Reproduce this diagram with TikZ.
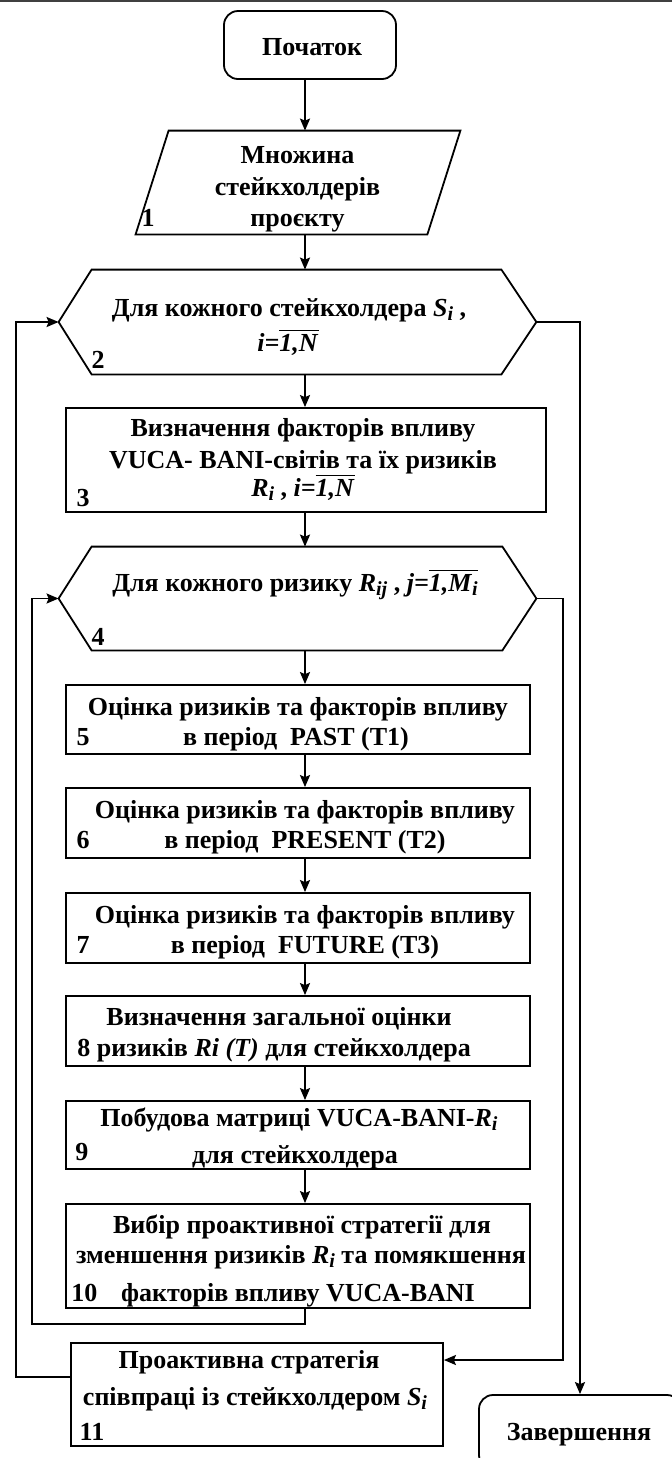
\documentclass[tikz,border=0pt]{standalone}
\usepackage{fontspec}
\usepackage{amsmath}
\setmainfont{Liberation Serif}
\usetikzlibrary{arrows.meta,calc}
\newcommand\fs{\fontsize{13pt}{15.5pt}\selectfont\bfseries}
\newcommand\ovl[1]{$\overline{\text{\textit{#1}}}$}
\newcommand\sbi[1]{\raisebox{-0.35ex}{\fontsize{10pt}{12pt}\selectfont\textit{#1}}}
\tikzset{
  base/.style={draw, line width=0.9pt},
  proc/.style={base, rectangle, inner sep=0pt},
  ghost/.style={rectangle, inner sep=0pt},
  shp/.style={line width=0.9pt, line join=miter},
  txt/.style={inner sep=0pt, anchor=base, font=\fs},
  txtw/.style={inner sep=0pt, anchor=base west, font=\fs},
  arr/.style={line width=0.9pt, -{Stealth[length=6pt,width=5pt,inset=1pt]}},
  ln/.style={line width=0.9pt}
}
\begin{document}
\begin{tikzpicture}[x=0.5pt,y=-0.5pt]
\useasboundingbox (0,0) rectangle (672,1458);
\clip (0,0) rectangle (672,1458);
\fill[white] (0,0) rectangle (672,1458);
\draw[line width=0.85pt, black!75] (0,0.85) -- (672,0.85);
\coordinate (ax) at (305,0);

% start
\node[proc, rounded corners=7pt, minimum width=86pt, minimum height=34pt] (start) at (310,45) {};
\node[txt] (tstart) at (312,55) {Початок};

% parallelogram
\node[ghost, minimum width=162pt, minimum height=51.5pt] (par) at (298,182.5) {};
\draw[shp] ([xshift=16.5pt]par.north west) -- (par.north east) -- ([xshift=-16.5pt]par.south east) -- (par.south west) -- cycle;
\node[txt] (tp1) at (297.5,163) {Множина};
\node[txt] (tp2) at (297.5,195) {стейкхолдерів};
\node[txt] (tp3) at (297.5,226) {проєкту};
\node[txt] (n1) at (148,226) {1};

% hexagon 2
\node[ghost, minimum width=238.5pt, minimum height=52pt] (hex2) at (297.5,322) {};
\draw[shp] (hex2.west) -- ([xshift=16.5pt]hex2.north west) -- ([xshift=-17.5pt]hex2.north east) -- (hex2.east) -- ([xshift=-17.5pt]hex2.south east) -- ([xshift=16.5pt]hex2.south west) -- cycle;
\node[txt] (th2a) at (289,316) {Для кожного стейкхолдера \textit{S}\sbi{i} ,};
\node[txt] (th2b) at (288,351) {\textit{i=}\ovl{1,N}};
\node[txt] (n2) at (98,368) {2};

% box 3
\node[proc, minimum width=240pt, minimum height=52pt] (b3) at (306,460) {};
\node[txt] (t3a) at (303,436) {Визначення факторів впливу};
\node[txt] (t3b) at (303,468) {VUCA- BANI-світів та їх ризиків};
\node[txt] (t3c) at (303,496) {\textit{R}\sbi{i} , \textit{i=}\ovl{1,N}};
\node[txt] (n3) at (83,506) {3};

% hexagon 4
\node[ghost, minimum width=238.5pt, minimum height=51.5pt] (hex4) at (297.5,598.5) {};
\draw[shp] (hex4.west) -- ([xshift=16.5pt]hex4.north west) -- ([xshift=-17pt]hex4.north east) -- (hex4.east) -- ([xshift=-17pt]hex4.south east) -- ([xshift=16.5pt]hex4.south west) -- cycle;
\node[txt] (th4) at (295,591) {Для кожного ризику \textit{R}\sbi{ij} , \textit{j=}$\overline{\text{\textit{1,M}\sbi{i}}}$};
\node[txt] (n4) at (98,645) {4};

% boxes 5..10
\node[proc, minimum width=232pt, minimum height=34.5pt] (b5) at (298,719.5) {};
\node[txt] (t5a) at (298,715) {Оцінка ризиків та факторів впливу};
\node[txt] (t5b) at (296,745) {в період\ \ PAST (T1)};
\node[txt] (n5) at (83,745) {5};

\node[proc, minimum width=232pt, minimum height=35pt] (b6) at (298,823) {};
\node[txt] (t6a) at (305,818) {Оцінка ризиків та факторів впливу};
\node[txt] (t6b) at (305,848) {в період\ \ PRESENT (T2)};
\node[txt] (n6) at (83,848) {6};

\node[proc, minimum width=232pt, minimum height=35pt] (b7) at (298,928) {};
\node[txt] (t7a) at (305,923) {Оцінка ризиків та факторів впливу};
\node[txt] (t7b) at (305,953) {в період\ \ FUTURE (T3)};
\node[txt] (n7) at (83,953) {7};

\node[proc, minimum width=232pt, minimum height=35pt] (b8) at (298,1031) {};
\node[txt] (t8a) at (279,1025) {Визначення загальної оцінки};
\node[txtw] (t8b) at (77,1056) {8 ризиків \textit{Ri (T)} для стейкхолдера};

\node[proc, minimum width=232pt, minimum height=34pt] (b9) at (298,1135) {};
\node[txt] (t9a) at (299,1126) {Побудова матриці VUCA-BANI-\textit{R}\sbi{i}};
\node[txt] (t9b) at (295,1163) {для стейкхолдера};
\node[txt] (n9) at (82,1160) {9};

\node[proc, minimum width=232pt, minimum height=52pt] (b10) at (298,1256) {};
\node[txt] (t10a) at (302,1233) {Вибір проактивної стратегії для};
\node[txt] (t10b) at (301,1263) {зменшення ризиків \textit{R}\sbi{i} та помякшення};
\node[txt] (t10c) at (298,1301) {факторів впливу VUCA-BANI};
\node[txtw] (n10) at (71,1301) {10};

% box 11
\node[proc, minimum width=186pt, minimum height=51.5pt] (b11) at (257,1394.5) {};
\node[txt] (t11a) at (249,1368) {Проактивна стратегія};
\node[txt] (t11b) at (255,1405) {співпраці із стейкхолдером \textit{S}\sbi{i}};
\node[txt] (n11) at (92,1440) {11};

% end
\node[proc, rounded corners=7pt, minimum width=101pt, minimum height=37pt] (end) at (580,1432) {};
\node[txt] (tend) at (579,1440) {Завершення};

% main flow arrows
\draw[arr] (start.south -| ax) -- (par.north -| ax);
\draw[arr] (par.south -| ax) -- (hex2.north -| ax);
\draw[arr] (hex2.south -| ax) -- (b3.north -| ax);
\draw[arr] (b3.south -| ax) -- (hex4.north -| ax);
\draw[arr] (hex4.south -| ax) -- (b5.north -| ax);
\draw[arr] (b5.south -| ax) -- (b6.north -| ax);
\draw[arr] (b6.south -| ax) -- (b7.north -| ax);
\draw[arr] (b7.south -| ax) -- (b8.north -| ax);
\draw[arr] (b8.south -| ax) -- (b9.north -| ax);
\draw[arr] (b9.south -| ax) -- (b10.north -| ax);

% inner loop
\coordinate (innerL) at (32,1324);
\draw[arr] (b10.south -| ax) |- (innerL) |- (hex4.west);
\coordinate (innerR) at (563,1360);
\draw[arr] (hex4.east) -| (innerR) -- (innerR -| b11.east);

% outer loop
\coordinate (outerL) at (16,1377);
\draw[arr] (outerL -| b11.west) -- (outerL) |- (hex2.west);
\draw[arr] (hex2.east) -| (end.north);
\end{tikzpicture}
\end{document}
